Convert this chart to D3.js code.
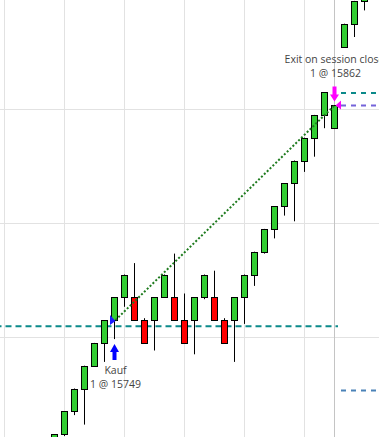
<!DOCTYPE html>
<html><head><meta charset="utf-8">
<script src="https://cdn.jsdelivr.net/npm/d3@7/dist/d3.min.js"></script>
<style>html,body{margin:0;padding:0;background:#fff;overflow:hidden}</style>
</head><body>
<svg id="c" width="379" height="437"></svg>
<script>
// Bar index (position), OHLC values
const barIndex = [5,6,7,8,9,10,11,12,13,14,15,16,17,18,19,20,21,22,23,24,25,26,27,28,29,30,31,32,33,34,35,36];
const opens  = [15677,15689,15701,15713,15725,15737,15749,15761,15761,15749,15749,15761,15761,15749,15749,15761,15761,15749,15749,15761,15773,15785,15797,15809,15821,15833,15845,15857,15850,15893,15905,15917];
const highs  = [15689,15701,15713,15725,15737,15749,15761,15773,15779,15750,15761,15773,15784,15763,15761,15773,15775,15750,15761,15773,15785,15797,15809,15821,15833,15845,15857,15869,15862,15905,15917,15929];
const lows   = [15677,15688,15699,15694,15725,15727,15739,15756,15749,15737,15733,15761,15749,15737,15731,15760,15749,15737,15727,15747,15767,15784,15792,15804,15801,15827,15835,15850,15850,15893,15898,15912];
const closes = [15689,15701,15713,15725,15737,15749,15761,15773,15749,15737,15761,15773,15749,15737,15761,15773,15749,15737,15761,15773,15785,15797,15809,15821,15833,15845,15857,15869,15862,15905,15917,15929];

const gridPrices = [15740, 15800, 15860];
const gridBars = [0, 6, 12, 18, 24, 30];
const sessionBreakBar = 33;

// trade
const entryBar = 11, entryPrice = 15749, entryLabel = "Kauf", entryQty = "1 @ 15749";
const exitBar = 33, exitPrice = 15862, exitLabel = "Exit on session close", exitQty = "1 @ 15862";

// horizontal level lines: [price, fromBar, toBar, colour]
const levelPrices = [15745.8, 15868.5, 15862, 15712];
const levelFrom   = [-1, 33.65, 33.65, 33.65];
const levelTo     = [33.35, 38, 38, 38];
const levelColors = ["#0b8a8a", "#0b8a8a", "#7463d9", "#4a82b8"];

const svg = d3.select("#c");
const x = d3.scaleLinear().domain([0, 1]).range([4.5, 14.5]);
const y = d3.scaleLinear().domain([15740, 15860]).range([337.2, 109.2]);
const px = v => Math.round(v) + 0.5;

// grid
svg.append("g").selectAll("line.h").data(gridPrices).join("line")
  .attr("x1", 0).attr("x2", 379)
  .attr("y1", d => Math.floor(y(d)) + 0.5).attr("y2", d => Math.floor(y(d)) + 0.5)
  .attr("stroke", "#e2e2e2").attr("stroke-width", 1);
svg.append("g").selectAll("line.v").data(gridBars).join("line")
  .attr("x1", d => x(d)).attr("x2", d => x(d))
  .attr("y1", 0).attr("y2", 437)
  .attr("stroke", "#e2e2e2").attr("stroke-width", 1);
svg.append("line")
  .attr("x1", x(sessionBreakBar)).attr("x2", x(sessionBreakBar))
  .attr("y1", 0).attr("y2", 437)
  .attr("stroke", "#c4c4c4").attr("stroke-width", 1);

// level lines
svg.append("g").selectAll("line").data(levelPrices).join("line")
  .attr("x1", (d, i) => x(levelFrom[i])).attr("x2", (d, i) => x(levelTo[i]))
  .attr("y1", d => y(d)).attr("y2", d => y(d))
  .attr("stroke", (d, i) => levelColors[i]).attr("stroke-width", 2)
  .attr("stroke-dasharray", (d, i) => i === 0 ? "6,4" : "5,5")
  .attr("stroke-dashoffset", (d, i) => i === 0 ? -1 : 0);

// candles
const bars = barIndex.map((b, i) => ({b, o: opens[i], h: highs[i], l: lows[i], c: closes[i]}));
const g = svg.append("g");
g.selectAll("line.w").data(bars).join("line")
  .attr("x1", d => x(d.b)).attr("x2", d => x(d.b))
  .attr("y1", d => y(d.h)).attr("y2", d => y(d.l))
  .attr("stroke", "#000").attr("stroke-width", 1);
g.selectAll("rect").data(bars).join("rect")
  .attr("x", d => x(d.b) - 3).attr("width", 6)
  .attr("y", d => px(y(Math.max(d.o, d.c))))
  .attr("height", d => px(y(Math.min(d.o, d.c))) - px(y(Math.max(d.o, d.c))))
  .attr("fill", d => d.c >= d.o ? "#32cd32" : "#ff0000")
  .attr("stroke", "#000").attr("stroke-width", 1);

// trade line
svg.append("line")
  .attr("x1", x(entryBar) + 1).attr("y1", y(entryPrice))
  .attr("x2", x(exitBar)).attr("y2", y(exitPrice))
  .attr("stroke", "#1e7b1e").attr("stroke-width", 2)
  .attr("stroke-dasharray", "2,2");

// entry markers
const ex = x(entryBar), ey = y(entryPrice);
svg.append("path")
  .attr("d", `M${ex-4.5},${ey-5} L${ex-4.5},${ey+5} L${ex+1},${ey+1} Z`)
  .attr("fill", "#1a1aff");
const ay = y(lows[barIndex.indexOf(entryBar)]) + 5;
svg.append("path")
  .attr("d", `M${ex},${ay} L${ex+4.5},${ay+8} L${ex+2},${ay+8} L${ex+2},${ay+16} L${ex-2},${ay+16} L${ex-2},${ay+8} L${ex-4.5},${ay+8} Z`)
  .attr("fill", "#0000ff");

// exit markers
const xx = x(exitBar), xy = y(exitPrice);
svg.append("path")
  .attr("d", `M${xx+1},${xy} L${xx+6.5},${xy-5} L${xx+6.5},${xy+4} Z`)
  .attr("fill", "#ff00ff");
const ty = y(highs[barIndex.indexOf(exitBar)]) - 4;
svg.append("path")
  .attr("d", `M${xx},${ty} L${xx+4.5},${ty-7} L${xx+2},${ty-7} L${xx+2},${ty-15} L${xx-2},${ty-15} L${xx-2},${ty-7} L${xx-4.5},${ty-7} Z`)
  .attr("fill", "#ff00ff");

// labels
const font = "'Open Sans', 'Noto Sans', sans-serif";
const tg = svg.append("g").attr("font-family", font).attr("font-size", "10.5px")
  .attr("fill", "#444").attr("text-anchor", "middle");
tg.append("text").attr("x", ex + 1).attr("y", ay + 30).text(entryLabel);
tg.append("text").attr("x", ex + 1).attr("y", ay + 44).text(entryQty);
tg.append("text").attr("x", xx).attr("y", ty - 38).text(exitLabel);
tg.append("text").attr("x", xx + 1).attr("y", ty - 24).text(exitQty);
</script>
</body></html>
